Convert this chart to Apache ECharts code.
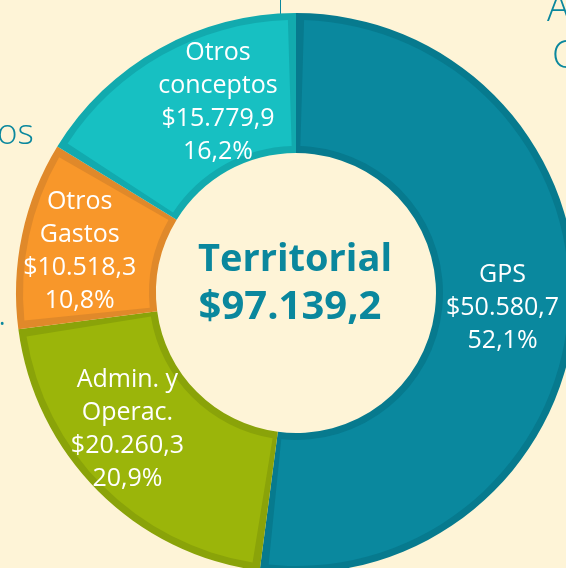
<!DOCTYPE html>
<html>
<head>
<meta charset="utf-8">
<script src="https://cdn.jsdelivr.net/npm/echarts@6/dist/echarts.min.js"></script>
<style>
  html, body { margin: 0; padding: 0; background: #fef4d7; }
  #chart { width: 566px; height: 568px; }
</style>
</head>
<body>
<div id="chart"></div>
<script>
// datos del gráfico
const categories = ['GPS', 'Admin. y\nOperac.', 'Otros\nGastos', 'Otros\nconceptos'];
const values = [50580.7, 20260.3, 10518.3, 15779.9];
const percents = ['52,1%', '20,9%', '10,8%', '16,2%'];
const totalLabel = '$97.139,2';

const fillColors = ['#0a889e', '#9bb50a', '#f8972a', '#17c0c2'];
const edgeColors = ['#077a8e', '#8aa309', '#e0892a', '#12aaae'];
// ajuste fino de cada etiqueta
const labelOffsets = [[-6, 1], [-18, -14], [-8, 3], [26, -5]];

const fmt = (v) => {
  const parts = v.toFixed(1).split('.');
  return '$' + parts[0].replace(/\B(?=(\d{3})+(?!\d))/g, '.') + ',' + parts[1];
};

const chart = echarts.init(document.getElementById('chart'));

const center = [296, 293];

chart.setOption({
  backgroundColor: '#fef4d7',
  animation: false,
  graphic: [
    {
      type: 'text', x: 295, y: 241,
      style: { text: 'Territorial', fill: '#0a879d', font: 'bold 38px "Open Sans"', align: 'center', verticalAlign: 'top' }
    },
    {
      type: 'text', x: 290, y: 288,
      style: { text: totalLabel, fill: '#0a879d', font: 'bold 40px "Open Sans"', align: 'center', verticalAlign: 'top' }
    },
    // restos de otros elementos de la infografía
    { type: 'text', x: 547, y: -9, style: { text: 'A', fill: '#0a879d', font: '300 38px "Open Sans"' } },
    { type: 'text', x: 552, y: 38, style: { text: 'C', fill: '#0a879d', font: '300 38px "Open Sans"' } },
    { type: 'text', x: -3, y: 117, style: { text: 'os', fill: '#0a879d', font: '300 35px "Open Sans"' } },
    { type: 'text', x: -2, y: 298, style: { text: '.', fill: '#0a879d', font: '300 35px "Open Sans"' } },
    { type: 'line', shape: { x1: 280.5, y1: 0, x2: 280.5, y2: 15 }, style: { stroke: '#0a879d', lineWidth: 1 } }
  ],
  series: [
    {
      // borde oscuro
      type: 'pie',
      center: center,
      radius: [140, 280],
      startAngle: 90,
      silent: true,
      label: { show: false },
      labelLine: { show: false },
      data: values.map((v, i) => ({ value: v, itemStyle: { color: edgeColors[i] } }))
    },
    {
      type: 'pie',
      center: center,
      radius: [147, 273],
      startAngle: 90,
      padAngle: 3.4,
      silent: true,
      labelLine: { show: false },
      label: {
        show: true,
        position: 'inside',
        color: '#ffffff',
        fontFamily: 'Open Sans',
        fontWeight: 'normal',
        fontSize: 25,
        lineHeight: 33,
        align: 'center'
      },
      data: values.map((v, i) => ({
        name: categories[i],
        value: v,
        itemStyle: { color: fillColors[i] },
        label: {
          offset: labelOffsets[i],
          formatter: categories[i] + '\n' + fmt(v) + '\n' + percents[i]
        }
      }))
    }
  ]
});
</script>
</body>
</html>
